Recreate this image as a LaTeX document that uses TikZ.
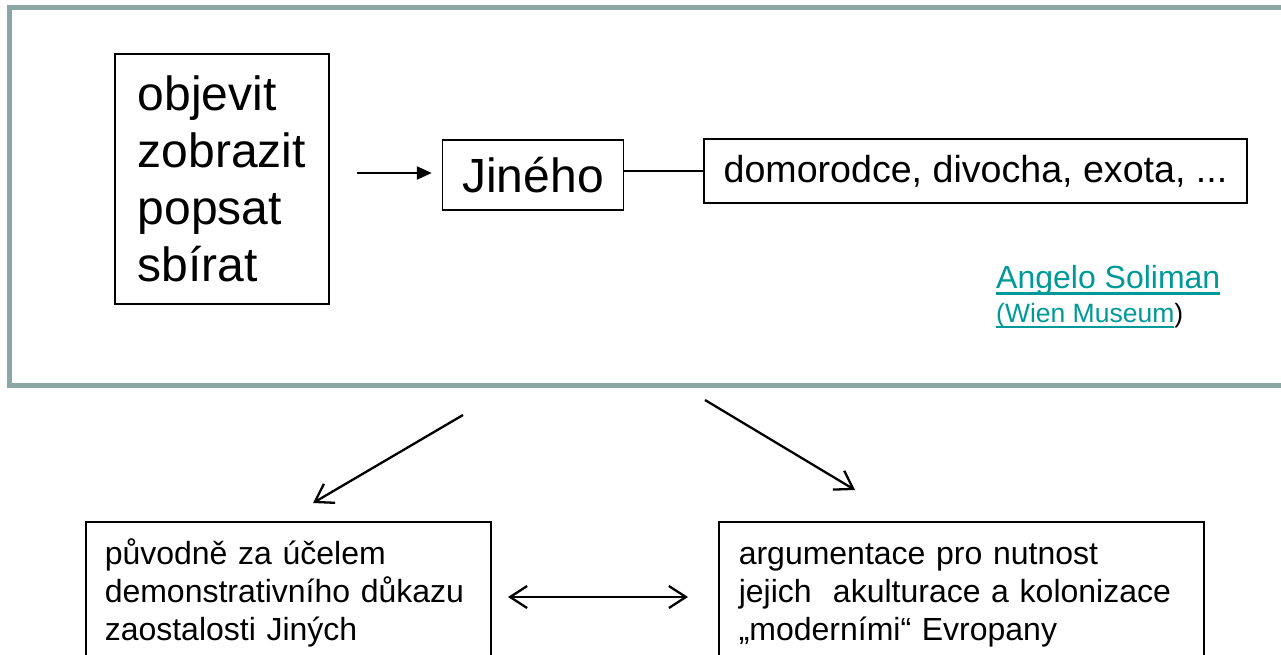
\documentclass[tikz,border=0pt]{standalone}
\usepackage{fontspec}
\setmainfont{Liberation Sans}
\usepackage{xcolor}
\usetikzlibrary{arrows.meta}
\definecolor{framegray}{RGB}{140,166,166}
\definecolor{linkteal}{RGB}{0,153,153}
% underlined link text: depth of rule, thickness, text
\newcommand\linktext[3]{\setbox0\hbox{#3}\rlap{\rule[-#1]{\wd0}{#2}}\box0}

\begin{document}
\begin{tikzpicture}[x=1pt,y=-1pt,
    box/.style={draw,line width=1.5pt},
    barb/.style={line width=2.3pt,-{Straight Barb[length=17pt,width=22pt]}}]
  \useasboundingbox (0,0) rectangle (1281,654);
  \draw[framegray,line width=5pt] (9,7) rectangle (1300,385);
  % top row
  \node[box,anchor=north west,minimum width=214pt,minimum height=250pt,align=left,
        font=\fontsize{48}{57}\selectfont] (verbs) at (114,53) {objevit\\zobrazit\\popsat\\sbírat};
  \node[box,minimum width=181pt,minimum height=70pt,font=\fontsize{48}{55}\selectfont] (jineho) at (533,175) {Jiného};
  \node[box,minimum width=543pt,minimum height=64pt,font=\fontsize{37.6}{44}\selectfont] (examples) at (975.5,171) {domorodce, divocha, exota, ...};
  \coordinate (start) at (357,173);
  \draw[line width=2.3pt,-{Triangle[length=15pt,width=13pt]}] (start) -- ([xshift=-10pt]jineho.west |- start);
  \draw[line width=1.5pt] (examples.west) -- (examples.west -| jineho.east);
  % link
  \node[anchor=base west,inner sep=0pt,text=linkteal,font=\fontsize{32}{38}\selectfont] (soliman) at (996,288)
        {\linktext{7pt}{3pt}{Angelo Soliman}};
  \node[anchor=base west,inner sep=0pt,font=\fontsize{26.5}{31}\selectfont] (museum) at (996,322)
        {\textcolor{linkteal}{\linktext{6pt}{2.3pt}{(Wien Museum}})};
  % consequences
  \coordinate (leftfrom) at (463,415);
  \coordinate (leftto) at (313,503);
  \coordinate (rightfrom) at (705,400);
  \coordinate (rightto) at (855,490);
  \draw[barb] (leftfrom) -- (leftto);
  \draw[barb] (rightfrom) -- (rightto);
  \node[box,anchor=north west,text width=367pt,align=left,inner xsep=19pt,inner ysep=16pt,
        font=\fontsize{32}{38}\selectfont] (purpose) at (85,521)
        {\strut původně za účelem\\demonstrativního důkazu\\zaostalosti Jiných};
  \node[box,anchor=north west,text width=445pt,align=left,inner xsep=20pt,inner ysep=16pt,
        font=\fontsize{32}{38}\selectfont] (argument) at (718,521)
        {\strut argumentace pro nutnost\\jejich~ akulturace a kolonizace\\„moderními“ Evropany};
  \coordinate (dblleft) at (508,597);
  \coordinate (dblright) at (688,597);
  \draw[line width=2.3pt,{Straight Barb[length=17pt,width=22pt]}-{Straight Barb[length=17pt,width=22pt]}] (dblleft) -- (dblright);
\end{tikzpicture}
\end{document}
